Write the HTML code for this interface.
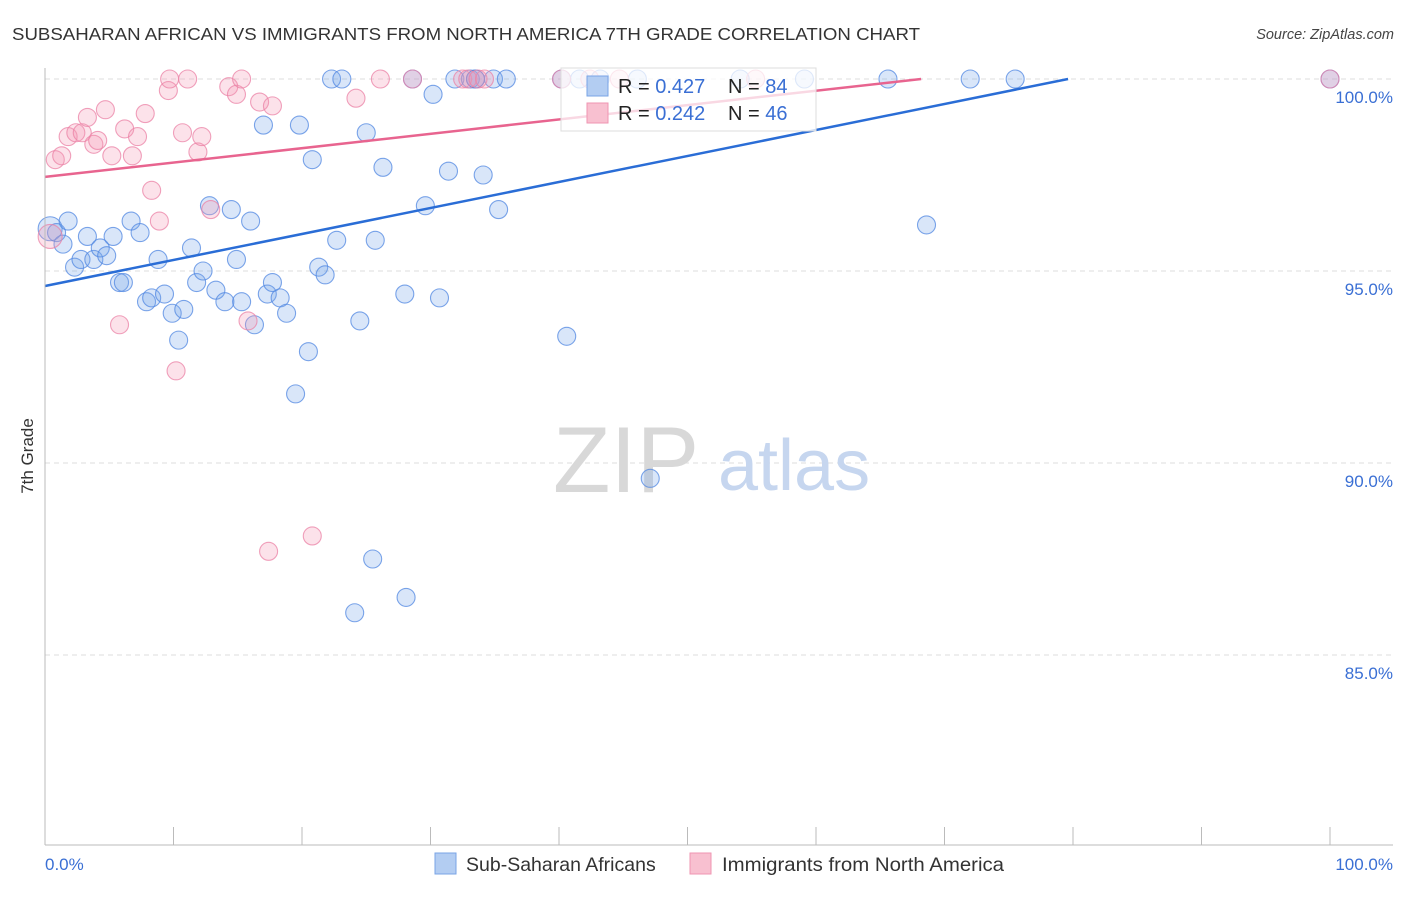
<!DOCTYPE html>
<html><head><meta charset="utf-8"><style>
body{margin:0;background:#fff;font-family:"Liberation Sans",sans-serif;}
svg text{font-family:"Liberation Sans",sans-serif;}
</style></head><body>
<svg id="chart" width="1406" height="892" viewBox="0 0 1406 892" xmlns="http://www.w3.org/2000/svg">
<text x="12" y="40" font-size="17.5" fill="#333" textLength="908" lengthAdjust="spacingAndGlyphs">SUBSAHARAN AFRICAN VS IMMIGRANTS FROM NORTH AMERICA 7TH GRADE CORRELATION CHART</text>
<text x="1394" y="39" font-size="14.5" fill="#444" font-style="italic" text-anchor="end">Source: ZipAtlas.com</text>
<text transform="translate(33,456) rotate(-90)" font-size="17" fill="#333" text-anchor="middle">7th Grade</text>
<g id="grid"></g>
<g><text x="553" y="492" font-size="94" fill="#d8d8d8" font-family="Liberation Serif,serif">ZIP</text><text x="718" y="490" font-size="72" fill="#c6d6ef">atlas</text></g>
<g id="marks"></g>
<g id="axes"></g>
<g>
<rect x="561" y="68" width="255" height="63" fill="#fff" fill-opacity="0.75" stroke="#ddd"/>
<rect x="587" y="76" width="21" height="20" fill="#b3cdf2" stroke="#7aa4e6"/>
<rect x="587" y="103" width="21" height="20" fill="#f8c0d0" stroke="#ef95b2"/>
<text x="618" y="93" font-size="20" fill="#222">R = <tspan fill="#3a6fd4">0.427</tspan></text>
<text x="728" y="93" font-size="20" fill="#222">N = <tspan fill="#3a6fd4">84</tspan></text>
<text x="618" y="120" font-size="20" fill="#222">R = <tspan fill="#3a6fd4">0.242</tspan></text>
<text x="728" y="120" font-size="20" fill="#222">N = <tspan fill="#3a6fd4">46</tspan></text>
</g>
<g>
<rect x="435" y="853" width="21" height="21" fill="#b3cdf2" stroke="#7aa4e6"/>
<text x="466" y="871" font-size="19.5" fill="#333">Sub-Saharan Africans</text>
<rect x="690" y="853" width="21" height="21" fill="#f8c0d0" stroke="#ef95b2"/>
<text x="722" y="871" font-size="19.5" fill="#333" textLength="282" lengthAdjust="spacingAndGlyphs">Immigrants from North America</text>
</g>
</svg>
<script>
const yTicks=[85,90,95,100];
const xTickLabels=["0.0%","100.0%"];
const blueX=[0.4,0.9,1.8,1.4,2.3,2.8,3.3,3.8,4.3,4.8,5.3,5.8,6.1,6.7,7.4,7.9,8.3,8.8,9.3,9.9,10.4,10.8,11.4,11.8,12.3,12.8,13.3,14.0,14.5,14.9,15.3,16.0,16.3,17.0,17.3,17.7,18.3,18.8,19.8,20.5,20.8,19.5,21.3,21.8,22.7,22.3,23.1,24.5,25.0,25.7,26.3,24.1,25.5,28.1,28.0,28.6,30.2,29.6,30.7,31.4,31.9,33.1,33.5,34.1,34.9,35.3,35.9,40.6,47.1,40.2,43.2,46.1,54.1,59.1,65.6,68.6,72.0,75.5,100.0,33.5,41.6];
const blueY=[96.1,96.0,96.3,95.7,95.1,95.3,95.9,95.3,95.6,95.4,95.9,94.7,94.7,96.3,96.0,94.2,94.3,95.3,94.4,93.9,93.2,94.0,95.6,94.7,95.0,96.7,94.5,94.2,96.6,95.3,94.2,96.3,93.6,98.8,94.4,94.7,94.3,93.9,98.8,92.9,97.9,91.8,95.1,94.9,95.8,100.0,100.0,93.7,98.6,95.8,97.7,86.1,87.5,86.5,94.4,100.0,99.6,96.7,94.3,97.6,100.0,100.0,100.0,97.5,100.0,96.6,100.0,93.3,89.6,100.0,100.0,100.0,100.0,100.0,100.0,96.2,100.0,100.0,100.0,100.0,100.0];
const pinkX=[0.4,0.8,1.3,1.8,2.4,2.9,3.3,3.8,4.1,4.7,5.2,5.8,6.2,6.8,7.2,7.8,8.3,8.9,9.6,9.7,10.2,10.7,11.1,11.9,12.2,12.9,14.3,14.9,15.3,15.8,16.7,17.4,17.7,20.8,24.2,26.1,28.6,32.5,32.9,33.7,34.2,40.2,100.0,55.3,42.4,44.7];
const pinkY=[95.9,97.9,98.0,98.5,98.6,98.6,99.0,98.3,98.4,99.2,98.0,93.6,98.7,98.0,98.5,99.1,97.1,96.3,99.7,100.0,92.4,98.6,100.0,98.1,98.5,96.6,99.8,99.6,100.0,93.7,99.4,87.7,99.3,88.1,99.5,100.0,100.0,100.0,100.0,100.0,100.0,100.0,100.0,100.0,100.0,100.0];
const lineIntercept=[94.61,97.45];
const lineSlope=[0.0677,0.0374];
const X0=45,X1=1330,YTOP=79,PPP=38.4;
const sx=v=>X0+(X1-X0)*v/100;
const sy=v=>YTOP+(100-v)*PPP;
const NS="http://www.w3.org/2000/svg";
function mk(tag,attrs,parent){const e=document.createElementNS(NS,tag);for(const k in attrs)e.setAttribute(k,attrs[k]);parent.appendChild(e);return e;}
const grid=document.getElementById('grid'),marks=document.getElementById('marks'),axes=document.getElementById('axes');
yTicks.forEach(t=>{
 const l=mk('line',{x1:45,x2:1393,y1:sy(t),y2:sy(t),stroke:'#ddd','stroke-dasharray':'5,4'},grid);
 
 
 const tx=mk('text',{x:1393,y:sy(t)+24,'font-size':17,fill:'#3a6fd4','text-anchor':'end'},grid);
 tx.textContent=t.toFixed(1)+'%';
 
 
});
mk('line',{x1:45,x2:45,y1:68,y2:845,stroke:'#bbb'},axes);
mk('line',{x1:45,x2:1393,y1:845,y2:845,stroke:'#bbb'},axes);
for(let i=0;i<=10;i++){const tk=mk('line',{x1:sx(i*10),x2:sx(i*10),y1:827,y2:845,stroke:'#bbb'},axes);
 
 }
const xl0=mk('text',{x:45,y:870,'font-size':17,fill:'#3a6fd4'},axes);xl0.textContent=xTickLabels[0];


const xl1=mk('text',{x:1393,y:870,'font-size':17,fill:'#3a6fd4','text-anchor':'end'},axes);xl1.textContent=xTickLabels[1];


function pts(xs,ys,fill,stroke,name){xs.forEach((x,i)=>{const r=i===0?12:9;
 const c=mk('circle',{cx:sx(x),cy:sy(ys[i]),r:r,fill:fill,stroke:stroke,'stroke-width':1.1},marks);
 
 });}
pts(blueX,blueY,'rgba(120,165,235,0.28)','rgba(80,135,225,0.75)','point-subsaharan');
pts(pinkX,pinkY,'rgba(245,150,180,0.28)','rgba(235,130,165,0.75)','point-immigrants');
const colors=['#2a6dd6','#e8648f'];
lineIntercept.forEach((b,i)=>{const m=lineSlope[i];const xe=Math.min(100,(100-b)/m);
 const ln=mk('line',{x1:sx(0),y1:sy(b),x2:sx(xe),y2:sy(b+m*xe),stroke:colors[i],'stroke-width':2.5},marks);
 
 });
</script>
</body></html>
